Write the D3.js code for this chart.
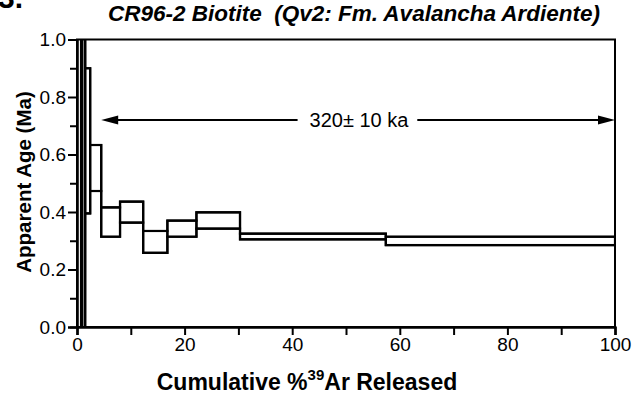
<!DOCTYPE html>
<html><head><meta charset="utf-8">
<script src="https://cdn.jsdelivr.net/npm/d3@7"></script>
<style>
body{margin:0;background:#fff;}
text{font-family:"Liberation Sans",Arial,sans-serif;fill:#000;}
</style></head>
<body>
<svg id="chart" width="637" height="398"></svg>
<script>
// Step heating data: cumulative % 39Ar start/end, apparent age lower/upper (Ma)
const stepStart = [0, 1.0, 1.55, 2.45, 4.5, 8.0, 12.3, 16.8, 22.2, 30.3, 57.4];
const stepEnd   = [0.75, 1.5, 2.45, 4.5, 8.0, 12.3, 16.8, 22.2, 30.3, 57.4, 100];
const ageLow    = [-1.5, -1.0, 0.395, 0.473, 0.314, 0.363, 0.258, 0.314, 0.342, 0.305, 0.285];
const ageHigh   = [2.0, 1.6, 0.900, 0.633, 0.416, 0.436, 0.334, 0.370, 0.399, 0.3245, 0.314];
const plateauRange = [4.5, 100];
const plateauAgeY = 0.72;
const plateauLabel = "320\u00B1 10 ka";
const xTicks = [0, 20, 40, 60, 80, 100];
const xMinor = [10, 30, 50, 70, 90];
const yTicks = [0.0, 0.2, 0.4, 0.6, 0.8, 1.0];
const yMinor = [0.1, 0.3, 0.5, 0.7, 0.9];
const title = "CR96-2 Biotite\u00A0\u00A0(Qv2: Fm. Avalancha Ardiente)";

const svg = d3.select("#chart");
const L = 77, R = 615, T = 39.5, B = 327;
const x = d3.scaleLinear().domain([0, 100]).range([L, R]);
const y = d3.scaleLinear().domain([0, 1]).range([B, T]);

svg.append("defs").append("clipPath").attr("id","clip")
  .append("rect").attr("x", L).attr("y", T).attr("width", R-L).attr("height", B-T);

// figure number, partially cut off as in the source figure
svg.append("text").attr("x", -2).attr("y", 8).style("font-size","30px").style("font-weight","bold").text("3.");

// title
svg.append("text").attr("x", 354).attr("y", 21).attr("text-anchor","middle")
  .style("font-size","22.5px").style("font-weight","bold").style("font-style","italic").text(title);

// steps: boxes + upper/lower envelopes
const steps = stepStart.map((s,i)=>({s, e: stepEnd[i], lo: ageLow[i], hi: ageHigh[i]}));
const gSteps = svg.append("g").attr("clip-path","url(#clip)");
gSteps.selectAll("rect").data(steps).join("rect")
  .attr("x", d=>x(d.s)).attr("width", d=>x(d.e)-x(d.s))
  .attr("y", d=>y(d.hi)).attr("height", d=>y(d.lo)-y(d.hi))
  .attr("fill","none").attr("stroke","#000").attr("stroke-width",2.2);
const upperPts = steps.flatMap(d=>[[d.s,d.hi],[d.e,d.hi]]);
const lowerPts = steps.flatMap(d=>[[d.s,d.lo],[d.e,d.lo]]);
const line = d3.line().x(p=>x(p[0])).y(p=>y(p[1]));
[upperPts, lowerPts].forEach(pts=>{
  gSteps.append("path").attr("d", line(pts)).attr("fill","none")
    .attr("stroke","#000").attr("stroke-width",2.2);
});

// frame
svg.append("rect").attr("x", L).attr("y", T).attr("width", R-L).attr("height", B-T)
  .attr("fill","none").attr("stroke","#000").attr("stroke-width",2);

// axes
const xAxis = svg.append("g").attr("transform",`translate(0,${B})`)
  .call(d3.axisBottom(x).tickValues(xTicks).tickFormat(d3.format("d")).tickSize(8).tickPadding(3));
const xAxisMinor = svg.append("g").attr("transform",`translate(0,${B})`)
  .call(d3.axisBottom(x).tickValues(xMinor).tickFormat("").tickSize(8));
const yAxis = svg.append("g").attr("transform",`translate(${L},0)`)
  .call(d3.axisLeft(y).tickValues(yTicks).tickFormat(d3.format(".1f")).tickSize(9).tickPadding(2));
const yAxisMinor = svg.append("g").attr("transform",`translate(${L},0)`)
  .call(d3.axisLeft(y).tickValues(yMinor).tickFormat("").tickSize(7));
[xAxis, xAxisMinor, yAxis, yAxisMinor].forEach(g=>{
  g.select(".domain").attr("stroke","#000").attr("stroke-width",2);
  g.selectAll(".tick line").attr("stroke","#000").attr("stroke-width",2);
  g.selectAll(".tick text").style("font-size","19px").style("font-family","Liberation Sans, Arial, sans-serif").attr("fill","#000");
});

// axis titles
const xl = svg.append("text").attr("x", 307).attr("y", 390).attr("text-anchor","middle")
  .style("font-size","23px").style("font-weight","bold");
xl.append("tspan").text("Cumulative %");
xl.append("tspan").attr("dy",-10).style("font-size","15px").text("39");
xl.append("tspan").attr("dy",10).text("Ar Released");

svg.append("text").attr("transform","translate(31,182) rotate(-90)").attr("text-anchor","middle")
  .style("font-size","20.5px").style("font-weight","bold").text("Apparent Age (Ma)");

// plateau arrow
const py = y(plateauAgeY);
const x1 = x(plateauRange[0]), x2 = x(plateauRange[1]);
const lbl = svg.append("text").attr("x", 359).attr("y", py + 7).attr("text-anchor","middle")
  .style("font-size","20px").text(plateauLabel);
const bb = lbl.node().getBBox();
svg.append("line").attr("x1", x1 + 10).attr("x2", bb.x - 12).attr("y1", py).attr("y2", py)
  .attr("stroke","#000").attr("stroke-width",2.2);
svg.append("line").attr("x1", bb.x + bb.width + 8).attr("x2", x2 - 10).attr("y1", py).attr("y2", py)
  .attr("stroke","#000").attr("stroke-width",2.2);
const ah = 17, aw = 4.5;
svg.append("path").attr("d", `M${x1},${py} L${x1+ah},${py-aw} L${x1+ah},${py+aw} Z`).attr("fill","#000");
svg.append("path").attr("d", `M${x2},${py} L${x2-ah},${py-aw} L${x2-ah},${py+aw} Z`).attr("fill","#000");
</script>
</body></html>
